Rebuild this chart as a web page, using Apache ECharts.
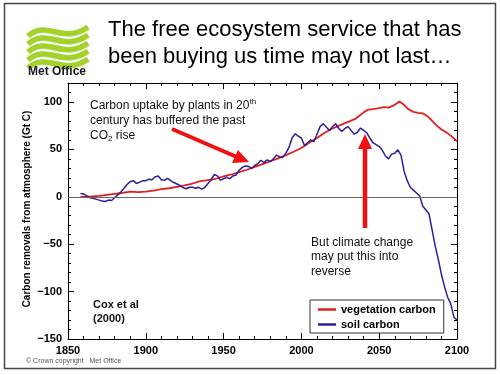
<!DOCTYPE html>
<html>
<head>
<meta charset="utf-8">
<script src="https://cdn.jsdelivr.net/npm/echarts@6/dist/echarts.min.js"></script>
<style>
  html, body { margin: 0; padding: 0; background: #fff; }
  #graph { width: 500px; height: 375px; }
</style>
</head>
<body>
<div id="graph"></div>
<script>
// vegetation carbon (red)
const vegYears = [1858, 1865, 1870, 1875, 1880, 1885, 1890, 1895, 1900, 1905, 1910, 1915, 1920, 1925, 1930,
  1935, 1940, 1945, 1950, 1955, 1960, 1965, 1970, 1975, 1980, 1985, 1990, 1995, 2000, 2005, 2010, 2015,
  2020, 2025, 2030, 2035, 2040, 2043, 2046, 2050, 2053, 2056, 2060, 2063, 2066, 2069, 2072, 2075, 2078,
  2081, 2084, 2087, 2090, 2093, 2096, 2099, 2100];
const vegValues = [0, 0.5, 1, 2, 3, 4, 5.5, 5, 5.5, 6.5, 8, 9, 10.5, 12, 14,
  16.5, 17.5, 19, 21.5, 23.5, 26, 28.5, 31.5, 34.5, 37.5, 40.5, 44, 47.5, 51.5, 57, 62, 67.5,
  72, 75.5, 79, 82.5, 89, 92, 92.5, 93.5, 94.5, 94, 97, 100.5, 97, 92, 89.5, 88.5, 88,
  85, 80, 75, 71, 68, 64.5, 60, 58.5];

// soil carbon (blue)
const soilYears = [1858, 1860, 1862, 1864, 1866, 1868, 1870, 1872, 1874, 1876, 1878, 1880, 1882, 1884, 1886,
  1888, 1890, 1892, 1894, 1896, 1898, 1900, 1902, 1904, 1906, 1908, 1910, 1912, 1914, 1916, 1918, 1920,
  1922, 1924, 1926, 1928, 1930, 1932, 1934, 1936, 1938, 1940, 1942, 1944, 1946, 1948, 1950, 1952, 1954,
  1956, 1958, 1960, 1962, 1964, 1966, 1968, 1970, 1972, 1974, 1976, 1978, 1980, 1982, 1984, 1986, 1988,
  1990, 1992, 1994, 1996, 1998, 2000, 2002, 2004, 2006, 2008, 2010, 2012, 2014, 2016, 2018, 2020, 2022,
  2024, 2026, 2028, 2030, 2032, 2034, 2036, 2038, 2040, 2042, 2044, 2046, 2048, 2050, 2052, 2054, 2056,
  2058, 2060, 2062, 2064, 2066, 2068, 2070, 2072, 2074, 2076, 2078, 2080, 2082, 2084, 2086, 2088, 2090,
  2092, 2094, 2096, 2098, 2100];
const soilValues = [3.5, 3, 1, -1, -1.5, -2.5, -3.5, -4.5, -5, -3.5, -4, -1, 2, 5, 9,
  13, 16, 17, 14, 15.5, 17, 17, 18.5, 18, 21, 22, 18, 17.5, 19.5, 17, 15, 13.5,
  12, 9.5, 8.5, 10, 10, 9, 10, 8, 10, 14, 18, 23.5, 22, 17.5, 19, 20.5, 19,
  22, 23, 28, 31, 32.5, 32, 30, 33, 35, 38.5, 36, 39, 37, 40, 44, 42, 41.5,
  46, 52, 62, 66.5, 64, 62, 54, 57, 60, 58, 66, 74, 77, 73.5, 70, 74, 77,
  72, 69, 72, 74, 70, 66, 68, 72.5, 70, 67.5, 62, 57, 55, 53, 49, 43, 40,
  45, 46, 49.5, 44, 27, 17, 10, 7, 4, 1, -10, -14, -18, -35, -52, -66, -82,
  -95, -106, -113, -127, -130];

const xTicks = [1850, 1900, 1950, 2000, 2050, 2100];
const yTicks = [-150, -100, -50, 0, 50, 100];

const pairs = (xs, ys) => xs.map((x, i) => [x, ys[i]]);
const fmtX = v => (xTicks.indexOf(v) >= 0 ? String(v) : '');
const fmtY = v => (yTicks.indexOf(v) >= 0 ? String(v).replace('-', '\u2212') : '');

const font = 'Liberation Sans, Arial, sans-serif';
const red = '#e0201e';
const blue = '#2e1f96';
const arrowRed = '#f01010';

const xBase = {
  type: 'value', min: 1850, max: 2100, interval: 50,
  axisLine: { show: true, onZero: false, lineStyle: { color: '#000', width: 1 } },
  axisTick: { inside: true, length: 6, lineStyle: { color: '#000' } },
  minorTick: { show: true, splitNumber: 5, length: 3, lineStyle: { color: '#000' } },
  splitLine: { show: false }
};
const yMinor = {
  type: 'value', min: -150, max: 120, interval: 10,
  axisLine: { show: true, onZero: false, lineStyle: { color: '#000', width: 1 } },
  axisTick: { inside: true, length: 3, lineStyle: { color: '#000' } },
  splitLine: { show: false }
};
const yMajor = {
  type: 'value', min: -150, max: 120,
  axisLine: { show: false, onZero: false },
  axisLabel: { show: false },
  axisTick: { inside: true, length: 6, customValues: yTicks, lineStyle: { color: '#000' } },
  splitLine: { show: false }
};

// wavy logo stripes
const logo = [0, 1, 2, 3, 4].map(i => {
  const y0 = 31 + i * 8;
  return {
    type: 'bezierCurve',
    shape: { x1: 28, y1: y0 + 5, cpx1: 46, cpy1: y0 - 12, cpx2: 64, cpy2: y0 + 14, x2: 88, y2: y0 - 4 },
    style: { stroke: '#a4d22a', lineWidth: 5.5, fill: null }
  };
});

var myChart = echarts.init(document.getElementById('graph'), null, { renderer: 'canvas' });
myChart.setOption({
  animation: false,
  backgroundColor: '#fff',
  grid: { left: 68, right: 43, top: 83, bottom: 36 },
  xAxis: [
    Object.assign({}, xBase, {
      position: 'bottom',
      axisLabel: { color: '#000', fontWeight: 'bold', fontSize: 11, fontFamily: font, margin: 6, formatter: fmtX }
    }),
    Object.assign({}, xBase, { position: 'top', axisLabel: { show: false } })
  ],
  yAxis: [
    Object.assign({}, yMinor, {
      position: 'left',
      axisLabel: { color: '#000', fontWeight: 'bold', fontSize: 11, fontFamily: font, margin: 6, formatter: fmtY }
    }),
    Object.assign({}, yMinor, { position: 'right', axisLabel: { show: false } }),
    Object.assign({}, yMajor, { position: 'left' }),
    Object.assign({}, yMajor, { position: 'right' })
  ],
  legend: {
    orient: 'vertical', left: 310, top: 300, width: 130,
    backgroundColor: '#fff', borderColor: '#333', borderWidth: 1,
    padding: [4, 8, 3, 8], itemGap: 4, itemWidth: 18, itemHeight: 2.5, icon: 'rect',
    textStyle: { color: '#000', fontWeight: 'bold', fontSize: 11, fontFamily: font },
    data: ['vegetation carbon', 'soil carbon']
  },
  series: [
    {
      name: 'soil carbon', type: 'line', symbol: 'none',
      data: pairs(soilYears, soilValues),
      lineStyle: { color: blue, width: 1.5 }, itemStyle: { color: blue },
      markLine: {
        silent: true, symbol: 'none', label: { show: false },
        lineStyle: { color: '#666', width: 1, type: 'solid' },
        data: [{ yAxis: 0 }]
      },
      z: 3
    },
    {
      name: 'vegetation carbon', type: 'line', symbol: 'none',
      data: pairs(vegYears, vegValues),
      lineStyle: { color: red, width: 1.8 }, itemStyle: { color: red },
      z: 2
    }
  ],
  graphic: [
    { type: 'rect', shape: { x: 4.5, y: 3.5, width: 491, height: 365 }, style: { fill: null, stroke: '#444', lineWidth: 1.5 }, z: 0 },
    ...logo,
    { type: 'text', x: 28, y: 66, style: { text: 'Met Office', fill: '#1a1a1a', font: 'bold 12px ' + font, letterSpacing: -0.5 } },
    { type: 'text', x: 108, y: 16, style: { text: 'The free ecosystem service that has\nbeen buying us time may not last\u2026', fill: '#000', font: '22px ' + font, lineHeight: 27 } },
    { type: 'text', x: 26, y: 358, style: { text: '\u00a9 Crown copyright   Met Office', fill: '#555', font: '7px ' + font } },
    {
      type: 'text', x: 27, y: 209, rotation: Math.PI / 2,
      style: { text: 'Carbon removals from atmosphere (Gt C)', fill: '#000', font: 'bold 10px ' + font, align: 'center', verticalAlign: 'middle' }
    },
    {
      type: 'text', x: 90, y: 98,
      style: {
        text: 'Carbon uptake by plants in 20{sup|th}\ncentury has buffered the past\nCO{sub|2} rise',
        fill: '#111', font: '12px ' + font, lineHeight: 15,
        rich: {
          sup: { fontSize: 8, verticalAlign: 'top', padding: [0, 0, 6, 0], fill: '#111' },
          sub: { fontSize: 8, verticalAlign: 'bottom', padding: [5, 0, 0, 0], fill: '#111' }
        }
      }
    },
    { type: 'text', x: 311, y: 235, style: { text: 'But climate change\nmay put this into\nreverse', fill: '#111', font: '12px ' + font, lineHeight: 14.5 } },
    { type: 'text', x: 93, y: 298, style: { text: 'Cox et al\n(2000)', fill: '#111', font: 'bold 11px ' + font, lineHeight: 14 } },
    // arrows
    { type: 'line', shape: { x1: 172, y1: 129, x2: 238, y2: 157.5 }, style: { stroke: arrowRed, lineWidth: 4 }, z: 10 },
    { type: 'polygon', shape: { points: [[249, 162], [232, 163], [238, 150]] }, style: { fill: arrowRed }, z: 10 },
    { type: 'line', shape: { x1: 365, y1: 228, x2: 365, y2: 147 }, style: { stroke: arrowRed, lineWidth: 4.5 }, z: 10 },
    { type: 'polygon', shape: { points: [[365, 134], [358, 149], [372, 149]] }, style: { fill: arrowRed }, z: 10 }
  ]
});
</script>
</body>
</html>
